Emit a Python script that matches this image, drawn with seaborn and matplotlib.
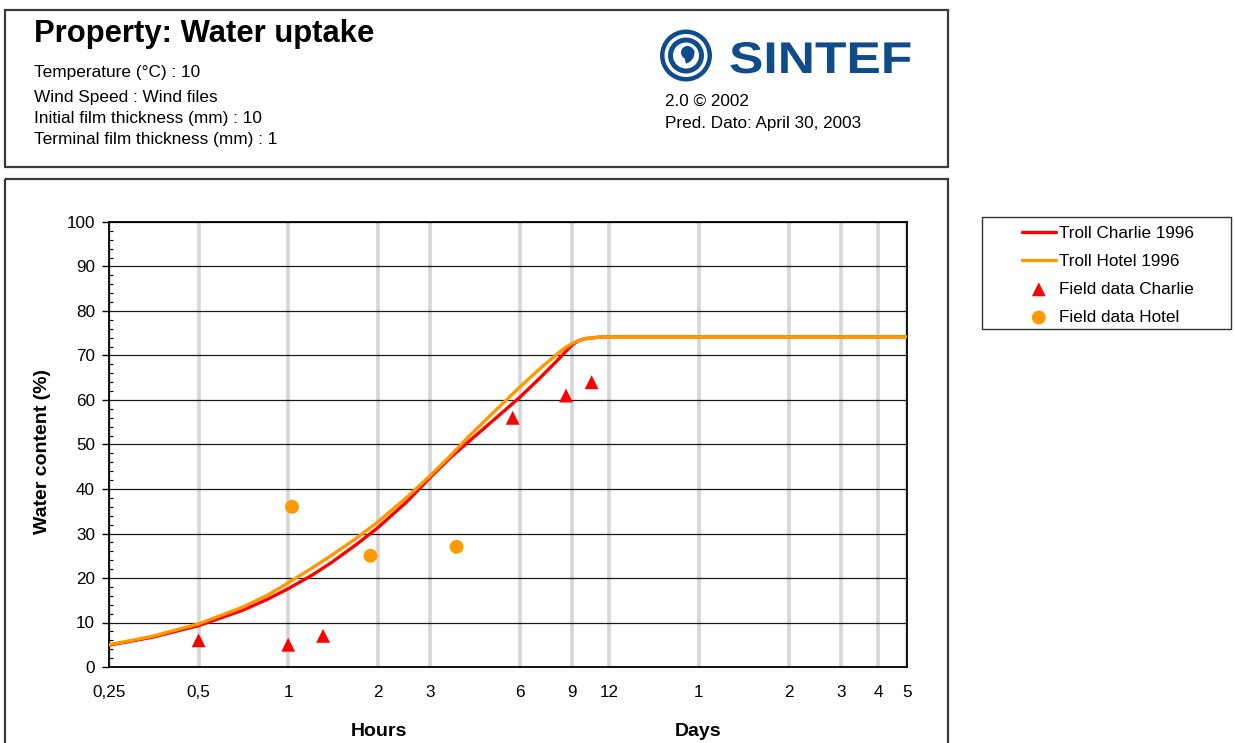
import matplotlib
matplotlib.use("Agg")
import matplotlib.pyplot as plt
import seaborn as sns
from matplotlib.patches import Rectangle, Circle, Wedge
from matplotlib.patheffects import AbstractPathEffect
from matplotlib.transforms import Affine2D
from matplotlib.ticker import FixedLocator, MultipleLocator, NullLocator

# ---------------- data ----------------
hours = [0.25, 0.35, 0.5, 0.7, 0.85, 1, 1.2, 1.4, 1.7, 2, 2.5, 3, 3.5, 4, 5, 6, 7, 8, 8.5, 9,
         9.5, 10, 11, 12, 24, 48, 72, 96, 120]
charlie_model = [4.9, 6.7, 9.3, 12.7, 15.2, 17.6, 20.6, 23.5, 27.6, 31.3, 37.1, 42.6, 47.0, 50.4,
                 56.0, 60.6, 64.9, 68.8, 70.7, 72.4, 73.4, 73.8, 74.1, 74.2, 74.2, 74.2, 74.2,
                 74.2, 74.2]
hotel_model = [5.0, 6.9, 9.7, 13.4, 16.1, 18.9, 22.2, 25.1, 29.0, 32.6, 38.1, 43.0, 47.4, 51.5,
               57.8, 62.9, 67.0, 70.3, 71.7, 72.7, 73.4, 73.8, 74.1, 74.2, 74.2, 74.2, 74.2,
               74.2, 74.2]
charlie_field_hours = [0.5, 1.0, 1.31, 5.68, 8.58, 10.46]
charlie_field_values = [6, 5, 7, 56, 61, 64]
hotel_field_hours = [1.03, 1.89, 3.68]
hotel_field_values = [36, 25, 27]

x_tick_hours = [0.25, 0.5, 1, 2, 3, 6, 9, 12, 24, 48, 72, 96, 120]
x_tick_labels = ["0,25", "0,5", "1", "2", "3", "6", "9", "12", "1", "2", "3", "4", "5"]
y_ticks = list(range(0, 101, 10))
series_names = ["Troll Charlie 1996", "Troll Hotel 1996", "Field data Charlie", "Field data Hotel"]
title = "Property: Water uptake"
header_lines = ["Temperature (°C) : 10", "Wind Speed : Wind files",
                "Initial film thickness (mm) : 10", "Terminal film thickness (mm) : 1"]
info_lines = ["2.0 © 2002", "Pred. Dato: April 30, 2003"]

RED = "#ff0000"
ORANGE = "#ff9900"
BLUE = "#0f4c8a"

# ---------------- style ----------------
sns.set_theme(style="white")
plt.rcParams['font.family'] = ['Liberation Sans', 'DejaVu Sans']
plt.rcParams['text.color'] = 'black'

W, H = 1235, 743
fig = plt.figure(figsize=(W / 100, H / 100), dpi=100)
fig.patch.set_facecolor('white')

# overlay in pixel coordinates
ov = fig.add_axes([0, 0, 1, 1], zorder=0)
ov.set_xlim(0, W)
ov.set_ylim(H, 0)
ov.axis('off')


class Stretch(AbstractPathEffect):
    def __init__(self, sx):
        super().__init__()
        self.sx = sx

    def draw_path(self, renderer, gc, tpath, affine, rgbFace=None):
        renderer.draw_path(gc, tpath, Affine2D().scale(self.sx, 1) + affine, rgbFace)


# frames
ov.add_patch(Rectangle((5, 10), 943, 157, fill=False, ec='#3a3a3a', lw=1.6))
ov.add_patch(Rectangle((5, 179), 943, 600, fill=False, ec='#3a3a3a', lw=1.6))
ov.add_patch(Rectangle((982, 217), 249, 112, fill=False, ec='#333333', lw=1.0))

# header texts
ov.text(34, 42, title, fontsize=22.3, fontweight='bold', va='baseline', ha='left')
for yb, s in zip([77, 102, 123, 144], header_lines):
    ov.text(34, yb, s, fontsize=12.4, va='baseline', ha='left')
for yb, s in zip([106, 128], info_lines):
    ov.text(665, yb, s, fontsize=12.3, va='baseline', ha='left')

# SINTEF logo
cx, cy = 686, 55.5
ov.add_patch(Circle((cx, cy), 26, color=BLUE, lw=0))
ov.add_patch(Circle((cx, cy), 21.5, color='white', lw=0))
ov.add_patch(Circle((cx, cy), 18, color=BLUE, lw=0))
ov.add_patch(Circle((cx, cy), 13, color='white', lw=0))
ov.add_patch(Circle((cx + 1.5, cy - 3), 6.5, color=BLUE, lw=0))
ov.add_patch(Wedge((cx - 3, cy - 3), 11.5, -15, 75, width=6.5, color=BLUE, lw=0))
ov.text(729, 73, "SINTEF", fontsize=32, fontweight='bold', color=BLUE, va='baseline', ha='left',
        path_effects=[Stretch(1.16)])

# ---------------- main chart ----------------
ax = fig.add_axes([109 / W, (H - 667) / H, 798 / W, 445 / H], zorder=2)
ax.set_xscale('log')

sns.lineplot(x=hours, y=charlie_model, color=RED, lw=2.4, ax=ax, label=series_names[0],
             sort=False, zorder=4)
sns.lineplot(x=hours, y=hotel_model, color=ORANGE, lw=2.4, ax=ax, label=series_names[1],
             sort=False, zorder=5)
sns.scatterplot(x=charlie_field_hours, y=charlie_field_values, marker='^', s=100, color=RED,
                edgecolor='none', ax=ax, label=series_names[2], zorder=6)
sns.scatterplot(x=hotel_field_hours, y=hotel_field_values, marker='o', s=100, color=ORANGE,
                edgecolor='none', ax=ax, label=series_names[3], zorder=6)

ax.set_xlim(x_tick_hours[0], x_tick_hours[-1])
ax.set_ylim(0, 100)

ax.xaxis.set_major_locator(FixedLocator(x_tick_hours))
ax.set_xticklabels(x_tick_labels)
ax.xaxis.set_minor_locator(NullLocator())
ax.tick_params(axis='x', which='major', bottom=False, length=0, pad=13, labelsize=12.3,
               labelcolor='black')

ax.set_yticks(y_ticks)
ax.yaxis.set_minor_locator(MultipleLocator(2))
ax.tick_params(axis='y', which='major', left=True, direction='out', length=5, width=1.0,
               pad=5, labelsize=12.3, color='black', labelcolor='black')
ax.tick_params(axis='y', which='minor', left=True, direction='in', length=2.6, width=0.8,
               color='black')

ax.set_axisbelow(True)
ax.grid(False)
ax.xaxis.grid(True, which='major', color='#d6d6d6', lw=2.6)
ax.yaxis.grid(True, which='major', color='#1a1a1a', lw=0.9)

for sp in ax.spines.values():
    sp.set_visible(True)
    sp.set_color('black')
    sp.set_linewidth(1.3)

ax.set_xlabel('')
ax.set_ylabel('Water content (%)', fontsize=14, fontweight='bold', color='black')
ax.yaxis.label.set_va('center')
ax.yaxis.set_label_coords((43 - 109) / 798, (667 - 451.5) / 445)

ov.text(379, 732, "Hours", fontsize=14, fontweight='bold', ha='center', va='center')
ov.text(698, 732, "Days", fontsize=14, fontweight='bold', ha='center', va='center')

leg = ax.legend(loc='upper left', bbox_to_anchor=(1021.7 / W, 1 - 225.5 / H),
                bbox_transform=fig.transFigure, frameon=False, borderpad=0, borderaxespad=0,
                handlelength=2.0, handletextpad=0.2, labelspacing=0.77, fontsize=12.3)

fig.savefig("out.png", dpi=100, facecolor='white')
